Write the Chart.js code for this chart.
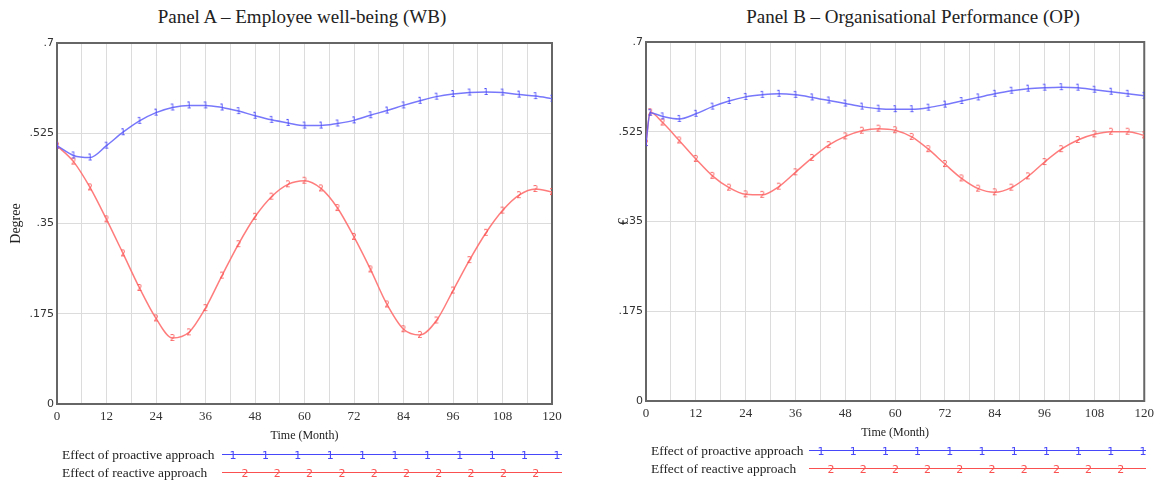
<!DOCTYPE html>
<html>
<head>
<title>Panels A and B</title>
<script src="https://cdn.jsdelivr.net/npm/chart.js"></script>
<style>
  body { margin:0; background:#fff; width:1159px; height:484px; position:relative; overflow:hidden; font-family:"Liberation Serif", serif; }
  canvas { position:absolute; top:0; }
  .title { position:absolute; top:6px; font-size:19px; color:#222; white-space:nowrap; transform:translateX(-50%); }
  .leg { position:absolute; font-size:13.4px; color:#222; white-space:nowrap; transform:translateY(-50%); }
  .legline { position:absolute; height:0; }
  .mk { position:absolute; font-family:"DejaVu Sans", sans-serif; font-size:11px; line-height:11px; transform:translate(-50%,-42%); }
</style>
</head>
<body>
<div class="title" style="left:302px">Panel A – Employee well-being (WB)</div>
<div class="title" style="left:913px">Panel B – Organisational Performance (OP)</div>
<canvas id="chartA" width="580" height="484" style="left:0"></canvas>
<canvas id="chartB" width="569" height="484" style="left:590px"></canvas>

<script>
// months for panel A, panel B has an extra early point (fast initial rise)
var monthsA = [0,4,8,12,16,20,24,28,32,36,40,44,48,52,56,60,64,68,72,76,80,84,88,92,96,100,104,108,112,116,120];
var monthsB = [0,1,4,8,12,16,20,24,28,32,36,40,44,48,52,56,60,64,68,72,76,80,84,88,92,96,100,104,108,112,116,120];

var wbProactive = [0.501,0.482,0.478,0.501,0.527,0.549,0.565,0.575,0.579,0.579,0.575,0.568,0.559,0.551,0.545,0.540,
  0.540,0.544,0.550,0.560,0.569,0.579,0.588,0.596,0.601,0.604,0.605,0.604,0.600,0.597,0.592];
var wbReactive = [0.501,0.470,0.420,0.358,0.292,0.225,0.166,0.128,0.139,0.186,0.249,0.310,0.363,0.402,0.426,0.433,
  0.418,0.380,0.324,0.261,0.193,0.145,0.134,0.162,0.220,0.279,0.332,0.375,0.405,0.417,0.411];

var opProactive = [0.503,0.562,0.555,0.550,0.560,0.574,0.585,0.593,0.597,0.599,0.597,0.592,0.586,0.580,0.574,0.570,
  0.569,0.569,0.572,0.578,0.585,0.592,0.599,0.605,0.609,0.611,0.612,0.611,0.607,0.603,0.599,0.595];
var opReactive = [0.503,0.563,0.543,0.508,0.472,0.439,0.416,0.403,0.402,0.418,0.446,0.474,0.499,0.516,0.527,0.531,
  0.528,0.515,0.491,0.462,0.434,0.414,0.407,0.416,0.438,0.466,0.491,0.509,0.520,0.525,0.525,0.518];

var yTicks = [0, 0.175, 0.35, 0.525, 0.7];
var yTickLabels = ['0', '.175', '.35', '.525', '.7'];
var seriesNames = ['Effect of proactive approach', 'Effect of reactive approach'];

var blue = 'rgba(95,95,250,0.85)';
var red = 'rgba(255,110,110,0.9)';

function markerImg(ch, color) {
  var c = document.createElement('canvas');
  c.width = 8; c.height = 10;
  var x = c.getContext('2d');
  x.fillStyle = color;
  x.font = '8px "DejaVu Sans"';
  x.textAlign = 'center';
  x.textBaseline = 'middle';
  x.fillText(ch, 4, 5.5);
  return c;
}

var frame = {
  id: 'frame',
  beforeDatasetsDraw: function (chart) {
    var a = chart.chartArea, c = chart.ctx;
    c.save();
    c.strokeStyle = '#666';
    c.lineWidth = 2;
    c.strokeRect(a.left, a.top, a.right - a.left, a.bottom - a.top);
    c.restore();
  }
};

function pts(xs, ys) {
  return xs.map(function (m, i) { return {x: m, y: ys[i]}; });
}

function createChart(id, xs, pro, rea, yTitle, yWidth, yTitlePad, pad) {
  var ctx = document.getElementById(id).getContext('2d');
  return new Chart(ctx, {
    type: 'line',
    data: {
      datasets: [
        {label: seriesNames[0], data: pts(xs, pro), borderColor: blue, borderWidth: 1.5,
         pointStyle: markerImg('1', 'rgb(70,70,250)'), cubicInterpolationMode: 'monotone'},
        {label: seriesNames[1], data: pts(xs, rea), borderColor: red, borderWidth: 1.5,
         pointStyle: markerImg('2', 'rgb(250,80,80)'), cubicInterpolationMode: 'monotone'}
      ]
    },
    options: {
      responsive: false,
      animation: false,
      layout: {padding: pad},
      plugins: {legend: {display: false}, tooltip: {enabled: false}},
      scales: {
        x: {
          type: 'linear', min: 0, max: 120,
          afterFit: function (s) { s.height = 40; },
          grid: {color: '#dcdcdc', drawTicks: false},
          border: {display: false},
          ticks: {stepSize: 6, autoSkip: false, maxRotation: 0, padding: 5, color: '#333',
            font: {family: 'Liberation Serif', size: 13},
            callback: function (v) { return v % 12 === 0 ? v : ''; }},
          title: {display: true, text: 'Time (Month)', color: '#222', padding: {top: 0, bottom: 1},
            font: {family: 'Liberation Serif', size: 12}}
        },
        y: {
          min: 0, max: 0.7,
          afterFit: function (s) { s.width = yWidth; },
          afterBuildTicks: function (s) { s.ticks = yTicks.map(function (v) { return {value: v}; }); },
          grid: {color: '#dcdcdc', drawTicks: false},
          border: {display: false},
          ticks: {padding: 3, color: '#333', font: {family: 'DejaVu Sans', size: 11},
            callback: function (v) { return yTickLabels[yTicks.indexOf(v)]; }},
          title: {display: true, text: yTitle, color: '#222', padding: {top: yTitlePad, bottom: 0},
            font: {family: 'Liberation Serif', size: 14}}
        }
      }
    },
    plugins: [frame]
  });
}

createChart('chartA', monthsA, wbProactive, wbReactive, 'Degree', 57, 8, {top: 43, right: 28, bottom: 40, left: 0});
createChart('chartB', monthsB, opProactive, opReactive, '€', 56, 26, {top: 42, right: 14, bottom: 43, left: 0});

// legends drawn under each panel
function legend(textX, lineX0, lineX1, rowY, ch, color, count, first, step) {
  var name = ch === '1' ? seriesNames[0] : seriesNames[1];
  var t = document.createElement('div');
  t.className = 'leg';
  t.style.left = textX + 'px'; t.style.top = rowY + 'px';
  t.textContent = name;
  document.body.appendChild(t);
  var l = document.createElement('div');
  l.className = 'legline';
  l.style.left = lineX0 + 'px'; l.style.width = (lineX1 - lineX0) + 'px';
  l.style.top = (rowY - 1) + 'px';
  l.style.borderTop = '1.5px solid ' + color;
  document.body.appendChild(l);
  for (var i = 0; i < count; i++) {
    var m = document.createElement('span');
    m.className = 'mk';
    m.style.left = (first + i * step) + 'px'; m.style.top = rowY + 'px';
    m.style.color = color;
    m.textContent = ch;
    document.body.appendChild(m);
  }
}
legend(62, 222, 562, 455, '1', 'rgb(70,70,250)', 11, 233, 32.4);
legend(62, 222, 562, 473, '2', 'rgb(250,80,80)', 10, 245, 32.3);
legend(651, 809, 1146, 451, '1', 'rgb(70,70,250)', 11, 821, 32.2);
legend(651, 809, 1146, 469, '2', 'rgb(250,80,80)', 10, 831, 32.2);
</script>
</body>
</html>
